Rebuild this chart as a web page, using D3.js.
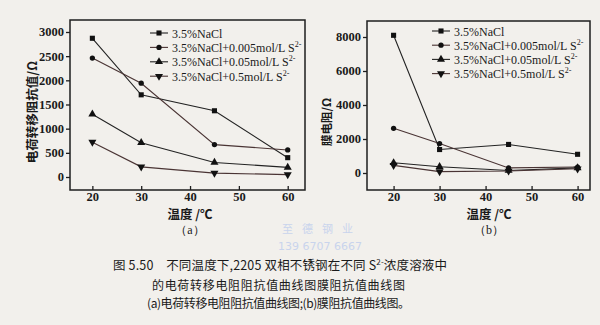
<!DOCTYPE html>
<html><head><meta charset="utf-8">
<script src="https://cdn.jsdelivr.net/npm/d3@7/dist/d3.min.js"></script>
<style>
html,body{margin:0;padding:0;background:#f2f0ec;}
svg{display:block;}
</style></head>
<body>
<svg id="c" width="600" height="325"></svg>
<script>
// ---------- data ----------
const temps = [20, 30, 45, 60];
const seriesNames = ["3.5%NaCl", "3.5%NaCl+0.005mol/L S", "3.5%NaCl+0.05mol/L S", "3.5%NaCl+0.5mol/L S"];
const seriesSup = ["", "2-", "2-", "2-"];
// (a) charge-transfer resistance, Ω
const aNaCl = [2870, 1700, 1370, 400];
const a0005 = [2460, 1940, 670, 560];
const a005  = [1300, 710, 300, 200];
const a05   = [720, 210, 80, 50];
// (b) film resistance, Ω
const bNaCl = [8100, 1380, 1680, 1100];
const b0005 = [2630, 1730, 300, 350];
const b005  = [600, 370, 150, 300];
const b05   = [450, 80, 120, 250];
const aYTicks = [0, 500, 1000, 1500, 2000, 2500, 3000];
const bYTicks = [0, 2000, 4000, 6000, 8000];
const xTicks = [20, 30, 40, 50, 60];

const svg = d3.select("#c");
const serif = "'Liberation Serif','Times New Roman',serif";
const cjk = "'Noto Sans CJK SC','Noto Sans',sans-serif";
const lineColors = ["#232323", "#4a3434", "#232323", "#4a3434"];
const symbols = [d3.symbolSquare, d3.symbolCircle, d3.symbolTriangle, d3.symbolTriangle];
const symSizes = [26, 22, 28, 28];
const symRot = [0, 0, 0, 180];

function panel(opts) {
  const {x0, x1, y0, y1, xDom, yDom, yTicks, data, legX, legY, legDy, ytitle, ytitleX, ytitleY, ytitleSize, xtitleX, label} = opts;
  const g = svg.append("g");
  const x = d3.scaleLinear().domain(xDom).range([x0, x1]);
  const y = d3.scaleLinear().domain(yDom).range([y1, y0]);

  // frame
  g.append("rect").attr("x", x0).attr("y", y0).attr("width", x1 - x0).attr("height", y1 - y0)
    .attr("fill", "none").attr("stroke", "#1e1e1e").attr("stroke-width", 1.5);

  // axes
  const yAxis = d3.axisLeft(y).tickValues(yTicks).tickSize(4).tickPadding(2).tickFormat(d3.format("d"));
  const ya = g.append("g").attr("transform", `translate(${x0},0)`).call(yAxis);
  const xAxis = d3.axisBottom(x).tickValues(xTicks).tickSize(-4).tickPadding(2).tickFormat(d3.format("d"));
  const xa = g.append("g").attr("transform", `translate(0,${y1})`).call(xAxis);
  [ya, xa].forEach(a => {
    a.select(".domain").remove();
    a.selectAll("line").attr("stroke", "#1e1e1e").attr("stroke-width", 1.3);
    a.selectAll("text").attr("font-family", serif).attr("font-size", 12.5).attr("font-weight", "bold").attr("fill", "#1a1a1a");
  });

  // lines and markers
  data.forEach((vals, i) => {
    const pts = temps.map((t, j) => [x(t), y(vals[j])]);
    g.append("path").attr("d", d3.line()(pts)).attr("fill", "none")
      .attr("stroke", lineColors[i]).attr("stroke-width", 1.1);
    g.selectAll(null).data(pts).enter().append("path")
      .attr("d", d3.symbol(symbols[i], symSizes[i])())
      .attr("transform", p => `translate(${p[0]},${p[1]}) rotate(${symRot[i]})`)
      .attr("fill", "#111");
  });

  // legend
  seriesNames.forEach((nm, i) => {
    const ly = legY + i * legDy;
    g.append("line").attr("x1", legX).attr("x2", legX + 18).attr("y1", ly).attr("y2", ly)
      .attr("stroke", lineColors[i]).attr("stroke-width", 1.1);
    g.append("path").attr("d", d3.symbol(symbols[i], symSizes[i])())
      .attr("transform", `translate(${legX + 9},${ly}) rotate(${symRot[i]})`).attr("fill", "#111");
    const t = g.append("text").attr("x", legX + 22).attr("y", ly + 4.5)
      .attr("font-family", serif).attr("font-size", 12).attr("fill", "#1a1a1a").text(nm);
    if (seriesSup[i]) {
      t.append("tspan").attr("dy", -5).attr("font-size", 8).text(seriesSup[i]);
    }
  });

  // y title
  g.append("text").attr("transform", `translate(${ytitleX},${ytitleY}) rotate(-90)`)
    .attr("text-anchor", "middle").attr("font-family", cjk).attr("font-weight", "bold")
    .attr("font-size", ytitleSize).attr("fill", "#1a1a1a").text(ytitle);
  // x title
  g.append("text").attr("x", xtitleX).attr("y", 218.5).attr("text-anchor", "middle")
    .attr("font-family", cjk).attr("font-weight", "bold").attr("font-size", 12.5).attr("fill", "#1a1a1a")
    .text("温度 /℃");
  g.append("text").attr("x", xtitleX).attr("y", 233.5).attr("text-anchor", "middle")
    .attr("font-family", serif).attr("font-size", 12).attr("fill", "#1a1a1a").text(label);
}

panel({x0: 70, x1: 305, y0: 20, y1: 190, xDom: [15.42, 63.54], yDom: [-269, 3248], yTicks: aYTicks,
  data: [aNaCl, a0005, a005, a05], legX: 150, legY: 33, legDy: 14.4,
  ytitle: "电荷转移阻抗值/Ω", ytitleX: 37, ytitleY: 112, ytitleSize: 12.5, xtitleX: 190, label: "（a）"});
panel({x0: 367, x1: 590, y0: 21, y1: 190, xDom: [14.22, 62.7], yDom: [-1000, 8941], yTicks: bYTicks,
  data: [bNaCl, b0005, b005, b05], legX: 432, legY: 31, legDy: 14.2,
  ytitle: "膜电阻/Ω", ytitleX: 331, ytitleY: 122, ytitleSize: 11.5, xtitleX: 489, label: "（b）"});

// watermark
svg.append("text").attr("x", 322).attr("y", 233).attr("text-anchor", "middle")
  .attr("font-family", cjk).attr("font-size", 11).attr("fill", "#c9d4ec").attr("letter-spacing", 9)
  .text("至德钢业");
svg.append("text").attr("x", 320).attr("y", 250).attr("text-anchor", "middle")
  .attr("font-family", "'DejaVu Sans',sans-serif").attr("font-size", 11).attr("fill", "#c9d4ec")
  .text("139 6707 6667");

// caption
const cap = svg.append("g").attr("font-family", cjk).attr("fill", "#1a1a1a");
const c1 = cap.append("text").attr("x", 113).attr("y", 270).attr("font-size", 12.5)
  .attr("textLength", 334).attr("lengthAdjust", "spacing");
c1.append("tspan").text("图 5.50　不同温度下,2205 双相不锈钢在不同 S");
c1.append("tspan").attr("dy", -5).attr("font-size", 8).text("2-");
c1.append("tspan").attr("dy", 5).text("浓度溶液中");
cap.append("text").attr("x", 152).attr("y", 289.5).attr("font-size", 12)
  .attr("textLength", 253).attr("lengthAdjust", "spacing").text("的电荷转移电阻阻抗值曲线图膜阻抗值曲线图");
cap.append("text").attr("x", 147).attr("y", 307.5).attr("font-size", 12)
  .attr("textLength", 263).attr("lengthAdjust", "spacing").text("(a)电荷转移电阻阻抗值曲线图;(b)膜阻抗值曲线图。");
</script>
</body></html>
